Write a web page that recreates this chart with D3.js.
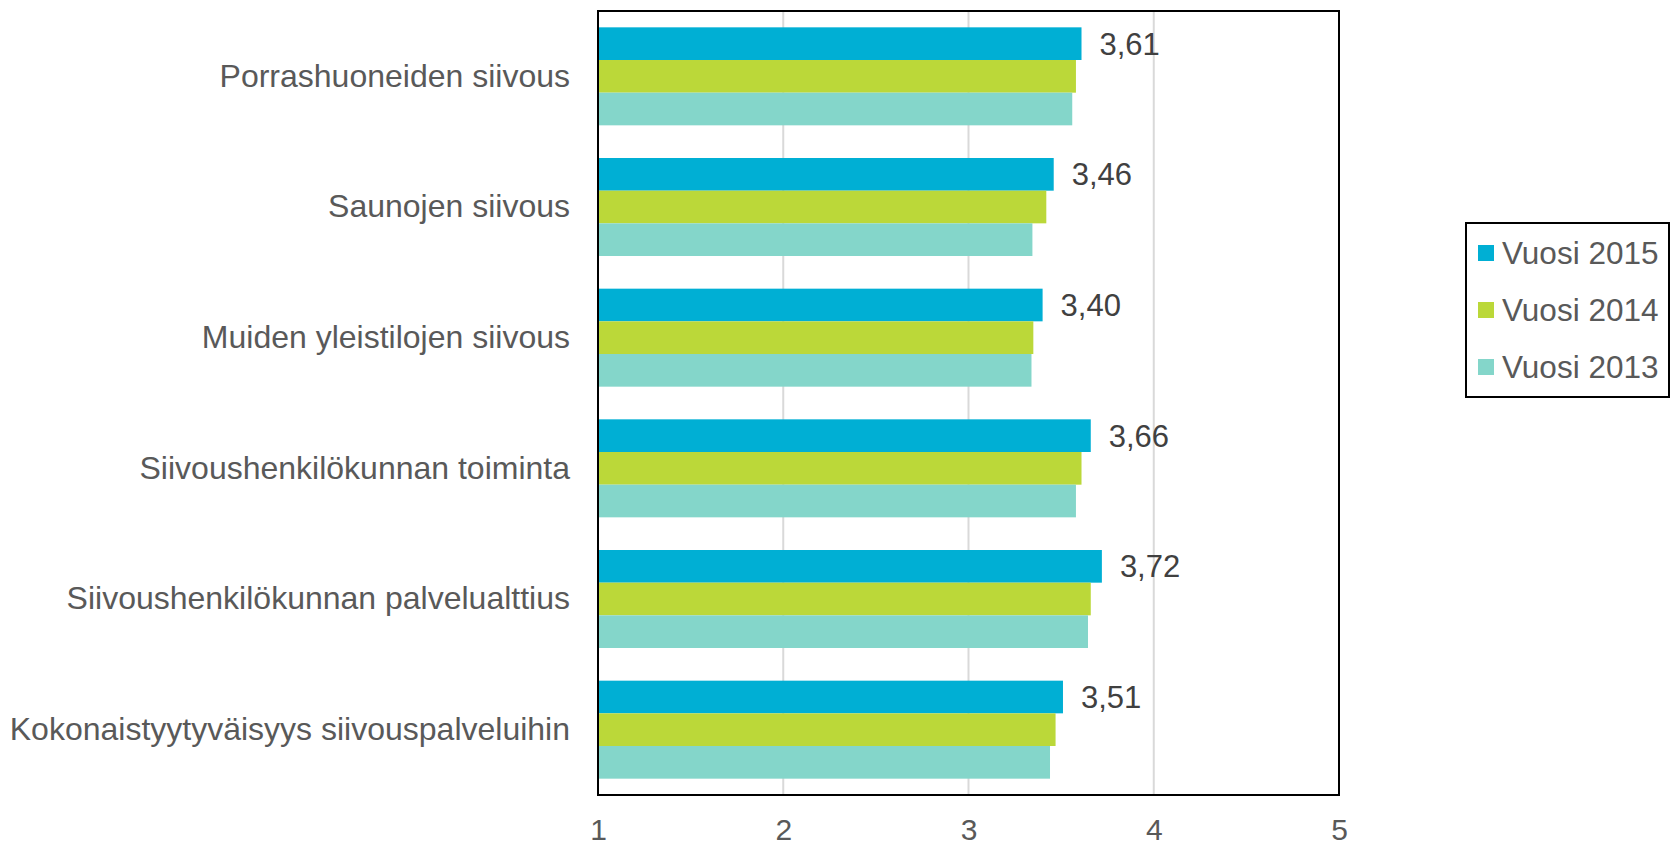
<!DOCTYPE html>
<html>
<head>
<meta charset="utf-8">
<script src="https://cdn.jsdelivr.net/npm/d3@7"></script>
<style>
  html, body { margin: 0; padding: 0; background: #fff; }
  svg { display: block; font-family: "Liberation Sans", Arial, sans-serif; }
</style>
</head>
<body>
<svg id="chart" width="1673" height="847"></svg>
<script>
const categories = [
  "Porrashuoneiden siivous",
  "Saunojen siivous",
  "Muiden yleistilojen siivous",
  "Siivoushenkilökunnan toiminta",
  "Siivoushenkilökunnan palvelualttius",
  "Kokonaistyytyväisyys siivouspalveluihin"
];
const seriesNames = ["Vuosi 2015", "Vuosi 2014", "Vuosi 2013"];
const values2015 = [3.61, 3.46, 3.40, 3.66, 3.72, 3.51];
const values2014 = [3.58, 3.42, 3.35, 3.61, 3.66, 3.47];
const values2013 = [3.56, 3.345, 3.34, 3.58, 3.645, 3.44];
const labels2015 = ["3,61", "3,46", "3,40", "3,66", "3,72", "3,51"];
const tickValues = [1, 2, 3, 4, 5];
const colors = ["#00AFD4", "#BBD839", "#84D6CA"];

const seriesValues = [values2015, values2014, values2013];

const svg = d3.select("#chart");
const plot = { left: 598, right: 1339, top: 11, bottom: 795 };
const textColor = "#595959";

const x = d3.scaleLinear().domain([1, 5]).range([plot.left, plot.right]);
const y = d3.scaleBand().domain(categories).range([plot.top, plot.bottom]).padding(0);
const ySub = d3.scaleBand().domain(seriesNames).range([0, y.bandwidth()]).paddingInner(0).paddingOuter(0.5);

// gridlines
svg.append("g")
  .selectAll("line")
  .data(tickValues.slice(1, -1))
  .join("line")
  .attr("x1", d => x(d)).attr("x2", d => x(d))
  .attr("y1", plot.top).attr("y2", plot.bottom)
  .attr("stroke", "#D9D9D9").attr("stroke-width", 2);

// bars
const groups = svg.append("g").selectAll("g")
  .data(categories)
  .join("g")
  .attr("transform", d => `translate(0,${y(d)})`);

groups.selectAll("rect")
  .data((c, i) => seriesNames.map((s, j) => ({ s, j, v: seriesValues[j][i] })))
  .join("rect")
  .attr("x", x(1))
  .attr("y", d => ySub(d.s))
  .attr("width", d => x(d.v) - x(1))
  .attr("height", ySub.bandwidth())
  .attr("fill", d => colors[d.j]);

// data labels for 2015
groups.append("text")
  .attr("x", (c, i) => x(values2015[i]) + 18)
  .attr("y", ySub(seriesNames[0]) + ySub.bandwidth() / 2)
  .attr("dy", "0.35em")
  .attr("font-size", 31)
  .attr("fill", "#404040")
  .text((c, i) => labels2015[i]);

// plot frame
svg.append("rect")
  .attr("x", plot.left).attr("y", plot.top)
  .attr("width", plot.right - plot.left).attr("height", plot.bottom - plot.top)
  .attr("fill", "none").attr("stroke", "#000").attr("stroke-width", 2);

// category axis labels
const yAxis = svg.append("g")
  .attr("transform", `translate(${plot.left},0)`)
  .call(d3.axisLeft(y).tickSize(0).tickPadding(28));
yAxis.select(".domain").remove();
yAxis.selectAll("text")
  .attr("font-size", 32)
  .attr("font-family", "Liberation Sans, Arial, sans-serif")
  .attr("fill", textColor);

// x axis labels
const xAxis = svg.append("g")
  .attr("transform", `translate(0,${plot.bottom})`)
  .call(d3.axisBottom(x).tickValues(tickValues).tickFormat(d3.format("d")).tickSize(0).tickPadding(24));
xAxis.select(".domain").remove();
xAxis.selectAll("text")
  .attr("font-size", 30)
  .attr("font-family", "Liberation Sans, Arial, sans-serif")
  .attr("fill", textColor);

// legend
const legend = svg.append("g");
legend.append("rect")
  .attr("x", 1466).attr("y", 223).attr("width", 203).attr("height", 174)
  .attr("fill", "#fff").attr("stroke", "#000").attr("stroke-width", 2);
const li = legend.selectAll("g.item")
  .data(seriesNames)
  .join("g")
  .attr("class", "item")
  .attr("transform", (d, i) => `translate(1478,${245 + i * 57})`);
li.append("rect").attr("width", 16).attr("height", 16).attr("fill", (d, i) => colors[i]);
li.append("text")
  .attr("x", 24).attr("y", 8).attr("dy", "0.35em")
  .attr("font-size", 31.5)
  .attr("fill", textColor)
  .text(d => d);
</script>
</body>
</html>
